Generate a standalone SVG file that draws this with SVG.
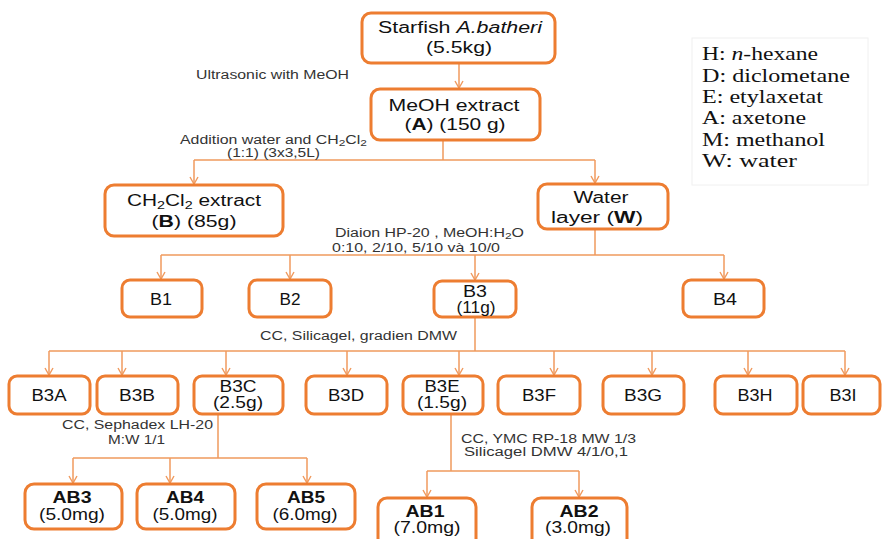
<svg xmlns="http://www.w3.org/2000/svg" width="883" height="539" viewBox="0 0 883 539">
<defs>
<marker id="arr" viewBox="0 0 10 10" refX="8" refY="5" markerWidth="10" markerHeight="10" markerUnits="userSpaceOnUse" orient="auto">
<path d="M1,1 L8,5 L1,9" fill="none" stroke="#F09A5E" stroke-width="1.4"/>
</marker>
<style>
.box{fill:#fff;stroke:#ED7D31;stroke-width:3}
.c{fill:none;stroke:#F09A5E;stroke-width:1.5}
.a{fill:none;stroke:#F09A5E;stroke-width:1.5;marker-end:url(#arr)}
.t{font-family:"Liberation Sans",Arial,sans-serif;font-size:16px;fill:#111;text-anchor:middle}
.l{font-family:"Liberation Sans",Arial,sans-serif;font-size:12px;fill:#333}
.g{font-family:"Liberation Serif","Times New Roman",serif;font-size:18px;fill:#111}
.b{font-weight:bold}
</style>
</defs>
<rect width="883" height="539" fill="#fff"/>
<rect x="692" y="38" width="176" height="147" fill="none" stroke="#f0f0f0" stroke-width="1"/>
<g id="legend">
<text class="g" x="702" y="60" textLength="116" lengthAdjust="spacingAndGlyphs">H: <tspan font-style="italic">n</tspan>-hexane</text>
<text class="g" x="702" y="82" textLength="148" lengthAdjust="spacingAndGlyphs">D: diclometane</text>
<text class="g" x="702" y="103" textLength="121" lengthAdjust="spacingAndGlyphs">E: etylaxetat</text>
<text class="g" x="702" y="124" textLength="104" lengthAdjust="spacingAndGlyphs">A: axetone</text>
<text class="g" x="702" y="146" textLength="123" lengthAdjust="spacingAndGlyphs">M: methanol</text>
<text class="g" x="702" y="167" textLength="95" lengthAdjust="spacingAndGlyphs">W: water</text>
</g>
<g id="connectors">
<path class="a" d="M459,63 V88"/>
<path class="c" d="M443,140 V160 M194,160 H595"/>
<path class="a" d="M194,160 V184"/>
<path class="a" d="M595,160 V183"/>
<path class="c" d="M595,229 V255 M161,255 H724"/>
<path class="a" d="M161,255 V279"/>
<path class="a" d="M290,255 V279"/>
<path class="a" d="M475,255 V280"/>
<path class="a" d="M724,255 V279"/>
<path class="c" d="M475,317 V351 M49,351 H845"/>
<path class="a" d="M49,351 V375"/>
<path class="a" d="M122,351 V375"/>
<path class="a" d="M226,351 V375"/>
<path class="a" d="M347,351 V375"/>
<path class="a" d="M459,351 V375"/>
<path class="a" d="M554,351 V375"/>
<path class="a" d="M652,351 V375"/>
<path class="a" d="M748,351 V375"/>
<path class="a" d="M845,351 V375"/>
<path class="c" d="M218,414 V458 M73,458 H307"/>
<path class="a" d="M73,458 V483"/>
<path class="a" d="M170,458 V483"/>
<path class="a" d="M307,458 V483"/>
<path class="c" d="M451,414 V471 M427,471 H579"/>
<path class="a" d="M427,471 V497"/>
<path class="a" d="M579,471 V497"/>
</g>
<g id="labels">
<text class="l" x="196" y="79" textLength="153" lengthAdjust="spacingAndGlyphs">Ultrasonic with MeOH</text>
<text class="l" x="180" y="144" textLength="187" lengthAdjust="spacingAndGlyphs">Addition water and CH<tspan font-size="9" dy="2">2</tspan><tspan dy="-2">Cl</tspan><tspan font-size="9" dy="2">2</tspan></text>
<text class="l" x="227" y="157" textLength="93" lengthAdjust="spacingAndGlyphs">(1:1) (3x3,5L)</text>
<text class="l" x="335" y="237" textLength="189" lengthAdjust="spacingAndGlyphs">Diaion HP-20 , MeOH:H<tspan font-size="9" dy="2">2</tspan><tspan dy="-2">O</tspan></text>
<text class="l" x="332" y="252" textLength="168" lengthAdjust="spacingAndGlyphs">0:10, 2/10, 5/10 và 10/0</text>
<text class="l" x="260" y="340" textLength="197" lengthAdjust="spacingAndGlyphs">CC, Silicagel, gradien DMW</text>
<text class="l" x="62" y="429" textLength="151" lengthAdjust="spacingAndGlyphs">CC, Sephadex LH-20</text>
<text class="l" x="108" y="444" textLength="57" lengthAdjust="spacingAndGlyphs">M:W 1/1</text>
<text class="l" x="461" y="443" textLength="175" lengthAdjust="spacingAndGlyphs">CC, YMC RP-18 MW 1/3</text>
<text class="l" x="464" y="456" textLength="164" lengthAdjust="spacingAndGlyphs">Silicagel DMW 4/1/0,1</text>
</g>
<g id="starfish"><rect class="box" x="362" y="13" width="193" height="50" rx="9"/>
<text class="t" x="460" y="33" textLength="164" lengthAdjust="spacingAndGlyphs">Starfish <tspan font-style="italic">A.batheri</tspan></text>
<text class="t" x="459" y="53" textLength="66" lengthAdjust="spacingAndGlyphs">(5.5kg)</text></g>
<g id="meoh"><rect class="box" x="371" y="89" width="169" height="51" rx="9"/>
<text class="t" x="454" y="111" textLength="131" lengthAdjust="spacingAndGlyphs">MeOH extract</text>
<text class="t" x="455" y="130" textLength="101" lengthAdjust="spacingAndGlyphs">(<tspan class="b">A</tspan>) (150 g)</text></g>
<g id="B"><rect class="box" x="105" y="185" width="178" height="51" rx="9"/>
<text class="t" x="194" y="206" textLength="134" lengthAdjust="spacingAndGlyphs">CH<tspan font-size="11" dy="3">2</tspan><tspan dy="-3">Cl</tspan><tspan font-size="11" dy="3">2</tspan><tspan dy="-3"> extract</tspan></text>
<text class="t" x="194" y="227" textLength="85" lengthAdjust="spacingAndGlyphs">(<tspan class="b">B</tspan>) (85g)</text></g>
<g id="W"><rect class="box" x="538" y="184" width="130" height="45" rx="9"/>
<text class="t" x="601" y="203" textLength="55" lengthAdjust="spacingAndGlyphs">Water</text>
<text class="t" x="597" y="223" textLength="92" lengthAdjust="spacingAndGlyphs">layer (<tspan class="b">W</tspan>)</text></g>
<g id="B1"><rect class="box" x="122" y="280" width="80" height="37" rx="8"/><text class="t" x="161" y="305" textLength="22" lengthAdjust="spacingAndGlyphs">B1</text></g>
<g id="B2"><rect class="box" x="249" y="280" width="82" height="37" rx="8"/><text class="t" x="290" y="305" textLength="21" lengthAdjust="spacingAndGlyphs">B2</text></g>
<g id="B3"><rect class="box" x="434" y="281" width="82" height="36" rx="8"/><text class="t" x="475" y="297" textLength="24" lengthAdjust="spacingAndGlyphs">B3</text><text class="t" x="476" y="313" textLength="39" lengthAdjust="spacingAndGlyphs">(11g)</text></g>
<g id="B4"><rect class="box" x="683" y="280" width="81" height="37" rx="8"/><text class="t" x="725" y="305" textLength="24" lengthAdjust="spacingAndGlyphs">B4</text></g>
<g id="B3A"><rect class="box" x="9" y="376" width="81" height="38" rx="8"/><text class="t" x="49" y="401" textLength="35" lengthAdjust="spacingAndGlyphs">B3A</text></g>
<g id="B3B"><rect class="box" x="97" y="376" width="81" height="38" rx="8"/><text class="t" x="137" y="401" textLength="36" lengthAdjust="spacingAndGlyphs">B3B</text></g>
<g id="B3C"><rect class="box" x="194" y="376" width="89" height="38" rx="8"/><text class="t" x="238" y="392" textLength="37" lengthAdjust="spacingAndGlyphs">B3C</text><text class="t" x="238" y="408" textLength="50" lengthAdjust="spacingAndGlyphs">(2.5g)</text></g>
<g id="B3D"><rect class="box" x="306" y="376" width="81" height="38" rx="8"/><text class="t" x="346" y="401" textLength="36" lengthAdjust="spacingAndGlyphs">B3D</text></g>
<g id="B3E"><rect class="box" x="403" y="376" width="80" height="38" rx="8"/><text class="t" x="442" y="392" textLength="35" lengthAdjust="spacingAndGlyphs">B3E</text><text class="t" x="442" y="408" textLength="50" lengthAdjust="spacingAndGlyphs">(1.5g)</text></g>
<g id="B3F"><rect class="box" x="498" y="376" width="82" height="38" rx="8"/><text class="t" x="539" y="401" textLength="34" lengthAdjust="spacingAndGlyphs">B3F</text></g>
<g id="B3G"><rect class="box" x="603" y="376" width="81" height="38" rx="8"/><text class="t" x="643" y="401" textLength="38" lengthAdjust="spacingAndGlyphs">B3G</text></g>
<g id="B3H"><rect class="box" x="715" y="376" width="82" height="38" rx="8"/><text class="t" x="755" y="401" textLength="35" lengthAdjust="spacingAndGlyphs">B3H</text></g>
<g id="B3I"><rect class="box" x="803" y="376" width="77" height="38" rx="8"/><text class="t" x="843" y="401" textLength="27" lengthAdjust="spacingAndGlyphs">B3I</text></g>
<g id="AB3"><rect class="box" x="25" y="484" width="97" height="45" rx="9"/><text class="t b" x="72" y="503" textLength="39" lengthAdjust="spacingAndGlyphs">AB3</text><text class="t" x="72" y="520" textLength="66" lengthAdjust="spacingAndGlyphs">(5.0mg)</text></g>
<g id="AB4"><rect class="box" x="137" y="484" width="98" height="45" rx="9"/><text class="t b" x="185" y="503" textLength="38" lengthAdjust="spacingAndGlyphs">AB4</text><text class="t" x="185" y="520" textLength="65" lengthAdjust="spacingAndGlyphs">(5.0mg)</text></g>
<g id="AB5"><rect class="box" x="257" y="484" width="98" height="45" rx="9"/><text class="t b" x="306" y="503" textLength="38" lengthAdjust="spacingAndGlyphs">AB5</text><text class="t" x="305" y="520" textLength="65" lengthAdjust="spacingAndGlyphs">(6.0mg)</text></g>
<g id="AB1"><rect class="box" x="378" y="498" width="98" height="50" rx="9"/><text class="t b" x="425" y="517" textLength="39" lengthAdjust="spacingAndGlyphs">AB1</text><text class="t" x="427" y="533" textLength="67" lengthAdjust="spacingAndGlyphs">(7.0mg)</text></g>
<g id="AB2"><rect class="box" x="532" y="498" width="95" height="50" rx="9"/><text class="t b" x="579" y="517" textLength="39" lengthAdjust="spacingAndGlyphs">AB2</text><text class="t" x="578" y="533" textLength="66" lengthAdjust="spacingAndGlyphs">(3.0mg)</text></g>
</svg>
